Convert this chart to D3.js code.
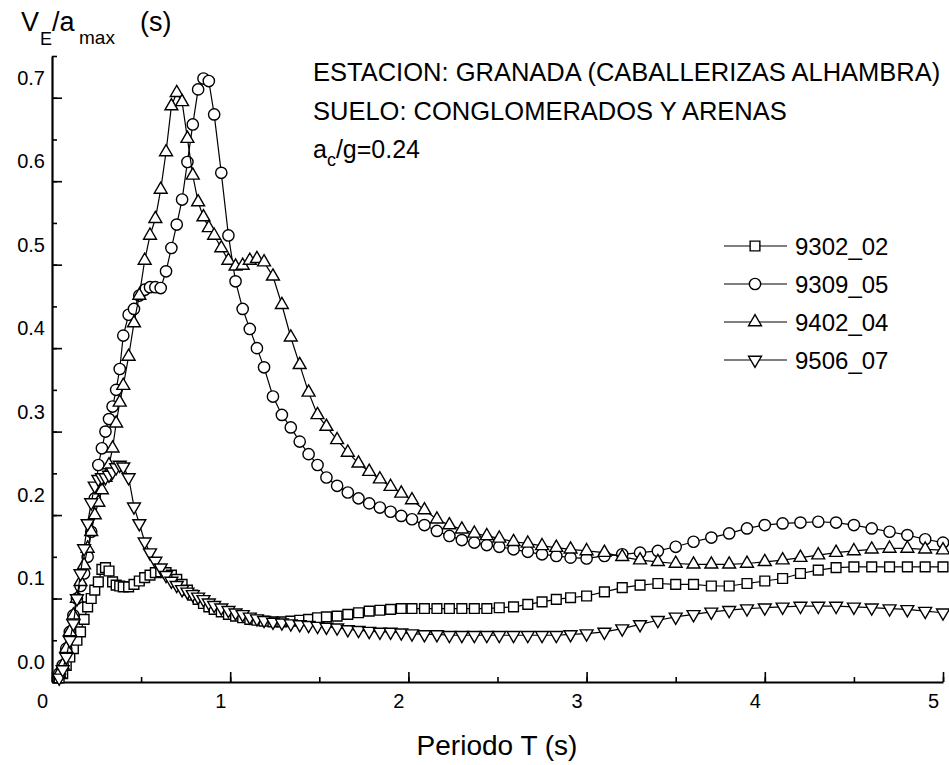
<!DOCTYPE html>
<html><head><meta charset="utf-8">
<script src="https://cdn.jsdelivr.net/npm/d3@7"></script>
<style>
html,body{margin:0;padding:0;background:#fff;}
svg{display:block;font-family:"Liberation Sans",Arial,sans-serif;}
</style></head>
<body>
<svg id="chart" width="949" height="765"></svg>
<script>
// ---------- DATA ----------
const periods = [0.04,0.06,0.08,0.10,0.12,0.14,0.16,0.18,0.20,0.22,0.24,0.26,0.28,0.30,0.32,0.34,0.36,0.38,0.40,
0.43,0.46,0.49,0.52,0.55,0.58,0.61,0.64,0.67,0.70,0.73,0.76,0.79,0.82,0.85,0.88,0.91,
0.95,0.99,1.03,1.07,1.11,1.15,1.19,
1.24,1.29,1.34,1.39,1.44,1.49,1.54,
1.60,1.66,1.72,1.78,1.84,1.90,1.96,2.02,
2.09,2.16,2.23,2.30,2.37,2.44,2.51,
2.59,2.67,2.75,2.83,2.91,
3.00,3.10,3.20,3.30,3.40,3.50,3.60,3.70,3.80,3.90,4.00,4.10,4.20,4.30,4.40,4.50,4.60,4.70,4.80,4.90,5.00];

const s9302_02 = [.005,.01,.02,.03,.04,.05,.06,.075,.09,.10,.11,.12,.135,.137,.133,.12,.116,.115,.114,
.114,.117,.121,.125,.128,.131,.132,.131,.128,.123,.117,.11,.104,.099,.094,.09,.087,
.084,.081,.079,.077,.075,.074,.073,
.072,.072,.073,.074,.075,.077,.078,
.079,.081,.083,.085,.086,.087,.088,.088,
.088,.088,.088,.088,.088,.088,.089,
.09,.093,.096,.099,.101,
.103,.108,.113,.116,.118,.117,.117,.115,.115,.118,.121,.124,.13,.134,.137,.138,.138,.138,.138,.138,.138];

const s9309_05 = [.01,.02,.04,.06,.08,.10,.115,.13,.15,.18,.22,.26,.28,.30,.315,.33,.35,.375,.415,
.44,.447,.463,.47,.473,.473,.472,.492,.52,.548,.578,.623,.668,.71,.723,.72,.68,
.61,.535,.48,.447,.423,.40,.377,
.342,.32,.305,.288,.273,.26,.245,
.235,.227,.22,.214,.209,.204,.199,.195,
.188,.181,.175,.17,.167,.164,.162,
.159,.156,.153,.151,.149,
.148,.151,.153,.155,.157,.162,.168,.173,.178,.184,.188,.19,.191,.192,.191,.188,.184,.18,.176,.171,.167];

const s9402_04 = [.01,.02,.04,.06,.08,.10,.12,.14,.16,.18,.20,.215,.23,.245,.26,.28,.31,.335,.355,
.39,.43,.463,.505,.535,.555,.59,.635,.69,.706,.695,.651,.607,.575,.557,.544,.535,
.52,.505,.498,.499,.505,.507,.503,
.486,.452,.413,.38,.347,.32,.306,
.29,.275,.262,.252,.243,.234,.226,.218,
.206,.195,.188,.183,.178,.175,.172,
.168,.166,.163,.161,.159,
.157,.155,.150,.146,.144,.142,.141,.141,.141,.142,.144,.146,.149,.152,.155,.157,.159,.16,.16,.159,.158];

const s9506_07 = [.005,.015,.03,.05,.07,.10,.13,.16,.19,.215,.235,.243,.245,.245,.248,.252,.257,.26,.258,
.245,.21,.19,.168,.155,.145,.137,.128,.121,.116,.111,.108,.105,.102,.099,.095,.092,
.089,.086,.083,.081,.078,.076,.074,
.072,.071,.07,.069,.068,.067,.066,
.065,.063,.062,.061,.06,.06,.059,.058,
.057,.057,.056,.056,.056,.056,.056,
.056,.056,.056,.056,.057,
.058,.06,.064,.069,.074,.078,.081,.084,.086,.088,.089,.09,.091,.091,.091,.09,.089,.088,.087,.085,.083];

const seriesNames = ["9302_02","9309_05","9402_04","9506_07"];
const seriesValues = [s9302_02, s9309_05, s9402_04, s9506_07];
const seriesMarkers = ["square","circle","triangle","triangleDown"];

const xTickValues = [0,1,2,3,4,5];
const yTickValues = [0,0.1,0.2,0.3,0.4,0.5,0.6,0.7];
const infoLines = ["ESTACION: GRANADA (CABALLERIZAS ALHAMBRA)", "SUELO: CONGLOMERADOS Y ARENAS"];

// ---------- CHART ----------
const svg = d3.select("#chart");
const x = d3.scaleLinear().domain([0,5]).range([52,943]);
const y = d3.scaleLinear().domain([0,0.75]).range([682,56]);

const symbolFor = {
  square: d3.symbol().type(d3.symbolSquare).size(95),
  circle: d3.symbol().type(d3.symbolCircle).size(100),
  triangle: d3.symbol().type(d3.symbolTriangle).size(72),
  triangleDown: d3.symbol().type(d3.symbolTriangle).size(72)
};
function markerTransform(kind, px, py){
  return kind === "triangleDown" ? `translate(${px},${py}) rotate(180)` : `translate(${px},${py})`;
}

// axes
const gY = svg.append("g").attr("transform","translate(52,0)");
gY.call(d3.axisLeft(y).tickValues(d3.range(0,0.751,0.05)).tickSize(-5).tickSizeOuter(0).tickFormat(""));
const gYM = svg.append("g").attr("transform","translate(52,0)");
gYM.call(d3.axisLeft(y).tickValues(yTickValues).tickSize(-10).tickSizeOuter(0).tickPadding(6).tickFormat(d3.format(".1f")));
gYM.select(".domain").remove();
gYM.selectAll("text").attr("font-size",20).attr("font-family","Liberation Sans, Arial").attr("fill","#000")
  .attr("transform","translate(-1,-20)");

const gX = svg.append("g").attr("transform","translate(0,682)");
gX.call(d3.axisBottom(x).tickValues(d3.range(0,5.01,0.5)).tickSize(-5).tickSizeOuter(0).tickFormat(""));
const gXM = svg.append("g").attr("transform","translate(0,682)");
gXM.call(d3.axisBottom(x).tickValues(xTickValues).tickSize(-10).tickSizeOuter(0).tickPadding(12).tickFormat(d3.format("d")));
gXM.select(".domain").remove();
gXM.selectAll("text").attr("font-size",20).attr("font-family","Liberation Sans, Arial").attr("fill","#000")
  .attr("transform","translate(-10,0)");

svg.selectAll(".domain").attr("stroke","#000").attr("stroke-width",2.2);
svg.selectAll(".tick line").attr("stroke","#000").attr("stroke-width",1.6);

// series
const line = d3.line().x(d => x(d[0])).y(d => y(d[1]));
seriesValues.forEach((vals, i) => {
  const pts = periods.map((p, j) => [p, vals[j]]);
  const g = svg.append("g");
  g.append("path").datum(pts).attr("d", line).attr("fill","none").attr("stroke","#000").attr("stroke-width",1.2);
  const kind = seriesMarkers[i];
  g.selectAll("path.m").data(pts).enter().append("path").attr("class","m")
    .attr("d", symbolFor[kind]())
    .attr("transform", d => markerTransform(kind, x(d[0]), y(d[1])))
    .attr("fill","#fff").attr("stroke","#000").attr("stroke-width",1.4);
});

// legend
const leg = svg.append("g");
seriesNames.forEach((name, i) => {
  const cy = 246 + i*38;
  leg.append("line").attr("x1",724).attr("x2",787).attr("y1",cy).attr("y2",cy).attr("stroke","#000").attr("stroke-width",1.2);
  const kind = seriesMarkers[i];
  leg.append("path").attr("d", symbolFor[kind]()).attr("transform", markerTransform(kind,755,cy))
    .attr("fill","#fff").attr("stroke","#000").attr("stroke-width",1.4);
  leg.append("text").attr("x",795).attr("y",cy+9).attr("font-size",24).text(name);
});

// annotations
infoLines.forEach((t, i) => {
  svg.append("text").attr("x",313).attr("y",81 + i*39).attr("font-size",25.5).text(t);
});
const ac = svg.append("text").attr("x",313).attr("y",158).attr("font-size",25);
ac.append("tspan").text("a");
ac.append("tspan").attr("font-size",18).attr("dy",8).text("c");
ac.append("tspan").attr("dy",-8).text("/g=0.24");

// axis titles
const yt = svg.append("text").attr("y",31).attr("font-size",27);
yt.append("tspan").attr("x",21).text("V");
yt.append("tspan").attr("x",40).attr("dy",14).attr("font-size",18).text("E");
yt.append("tspan").attr("x",52).attr("dy",-14).text("/a");
yt.append("tspan").attr("x",79).attr("dy",13).attr("font-size",19).text("max");
yt.append("tspan").attr("x",140).attr("dy",-13).text("(s)");

svg.append("text").attr("x",497).attr("y",755).attr("text-anchor","middle").attr("font-size",28).text("Periodo T (s)");
</script>
</body></html>
